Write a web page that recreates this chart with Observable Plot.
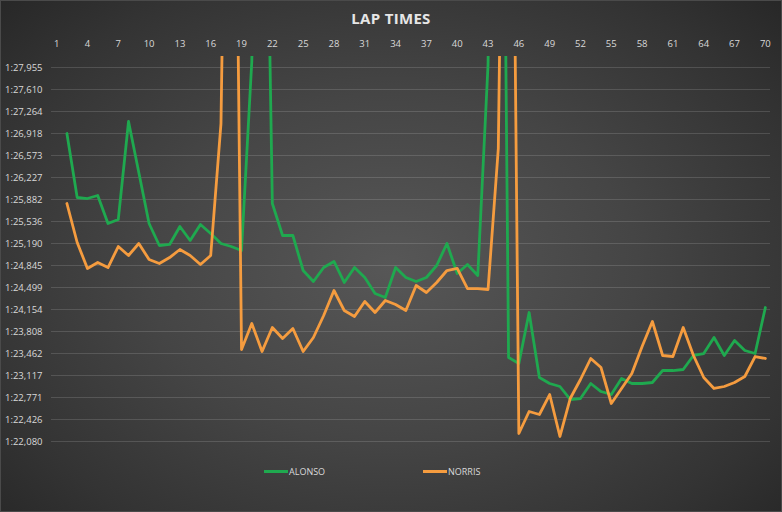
<!DOCTYPE html>
<html>
<head>
<meta charset="utf-8">
<script src="https://cdn.jsdelivr.net/npm/d3@7"></script>
<script src="https://cdn.jsdelivr.net/npm/@observablehq/plot@0.6"></script>
<style>
  html, body { margin: 0; padding: 0; background: #262626; }
  #chart {
    position: relative; width: 782px; height: 512px; overflow: hidden;
    background: radial-gradient(ellipse 70% 75% at 50% 52%, #575757 0%, #454545 45%, #333333 80%, #272727 100%);
    box-shadow: inset 0 0 0 1px #4a4a4a;
    font-family: "Open Sans", sans-serif;
  }
  #title {
    height: 32px; line-height: 36px; text-align: center;
    font-weight: 700; font-size: 15px; color: #e6e6e6; letter-spacing: 0.3px;
  }
  #plot { height: 430px; }
  #plot svg { display: block; }
  #legend { position: relative; height: 50px; }
  .item { position: absolute; top: 3px; display: flex; align-items: center; font-size: 9px; color: #d9d9d9; }
  .swatch { width: 24px; height: 3px; margin-right: 1px; }
</style>
</head>
<body>
<div id="chart">
  <div id="title">LAP TIMES</div>
  <div id="plot"></div>
  <div id="legend"></div>
</div>
<script>
const laps = d3.range(1, 71);
const xTickLaps = [1,4,7,10,13,16,19,22,25,28,31,34,37,40,43,46,49,52,55,58,61,64,67,70];
const yTickLabels = ["1:22,080","1:22,426","1:22,771","1:23,117","1:23,462","1:23,808","1:24,154","1:24,499","1:24,845","1:25,190","1:25,536","1:25,882","1:26,227","1:26,573","1:26,918","1:27,264","1:27,610","1:27,955"];
const yDomain = [82.080, 88.128];
const seriesNames = ["ALONSO", "NORRIS"];
const seriesColors = ["#1fa94f", "#f59c3f"];

// lap times in seconds (lap 1 not recorded)
const alonso = [null,
  86.918, 85.913, 85.897, 85.944, 85.505, 85.567, 87.107, 86.306, 85.505,
  85.159, 85.175, 85.457, 85.238, 85.489, 85.347, 85.190, 85.143, 85.080, 88.05,
  95.70, 85.819, 85.316, 85.316, 84.766, 84.593, 84.813, 84.908, 84.578, 84.813,
  84.656, 84.405, 84.342, 84.813, 84.656, 84.593, 84.656, 84.845, 85.190, 84.719,
  84.860, 84.688, 88.00, 101.0, 83.400, 83.305, 84.106, 83.085, 82.991, 82.944,
  82.740, 82.755, 82.991, 82.865, 82.818, 83.070, 82.991, 82.991, 83.007, 83.195,
  83.195, 83.211, 83.431, 83.462, 83.714, 83.431, 83.667, 83.510, 83.462, 84.185];
const norris = [null,
  85.819, 85.206, 84.798, 84.892, 84.813, 85.143, 85.002, 85.190, 84.939,
  84.876, 84.970, 85.096, 85.002, 84.860, 85.002, 87.075, 98.0, 83.525, 83.934,
  83.494, 83.871, 83.698, 83.855, 83.494, 83.714, 84.059, 84.452, 84.138, 84.044,
  84.279, 84.106, 84.295, 84.232, 84.138, 84.531, 84.421, 84.578, 84.766, 84.798,
  84.483, 84.483, 84.468, 86.683, 99.0, 82.206, 82.551, 82.504, 82.818, 82.159,
  82.755, 83.054, 83.384, 83.242, 82.677, 82.913, 83.148, 83.572, 83.965, 83.431,
  83.415, 83.871, 83.431, 83.085, 82.913, 82.944, 83.007, 83.101, 83.415, 83.384];

const parseLabel = s => { const [m, sec] = s.split(":"); return (+m) * 60 + parseFloat(sec.replace(",", ".")); };
const yTicks = yTickLabels.map(parseLabel);
const labelOf = new Map(yTicks.map((v, i) => [v, yTickLabels[i]]));

const series = [alonso, norris];
const lines = series.map((vals, s) =>
  Plot.line(laps, {
    x: d => d,
    y: (d, i) => vals[i],
    stroke: seriesColors[s],
    strokeWidth: 2.8,
    strokeLinejoin: "round",
    clip: true
  })
);

const chart = Plot.plot({
  width: 782,
  height: 430,
  marginLeft: 51,
  marginRight: 12,
  marginTop: 24,
  marginBottom: 21,
  style: { background: "transparent", color: "#d9d9d9", fontSize: "9.5px", fontFamily: "Open Sans, sans-serif" },
  x: { domain: [0.5, 70.5] },
  y: { domain: yDomain },
  marks: [
    Plot.gridY(yTicks, { stroke: "#ffffff", strokeOpacity: 0.14, strokeWidth: 1 }),
    Plot.axisY(yTicks, { anchor: "left", tickSize: 0, tickPadding: 9, tickFormat: v => labelOf.get(v), label: null }),
    Plot.axisX(xTickLaps, { anchor: "top", tickSize: 0, tickPadding: 10, tickFormat: d => String(d), label: null }),
    ...lines
  ]
});
document.getElementById("plot").appendChild(chart);

const legend = document.getElementById("legend");
const lefts = [264, 423];
seriesNames.forEach((name, i) => {
  const it = document.createElement("div");
  it.className = "item";
  it.style.left = lefts[i] + "px";
  it.innerHTML = `<span class="swatch" style="background:${seriesColors[i]}"></span><span>${name}</span>`;
  legend.appendChild(it);
});
</script>
</body>
</html>
